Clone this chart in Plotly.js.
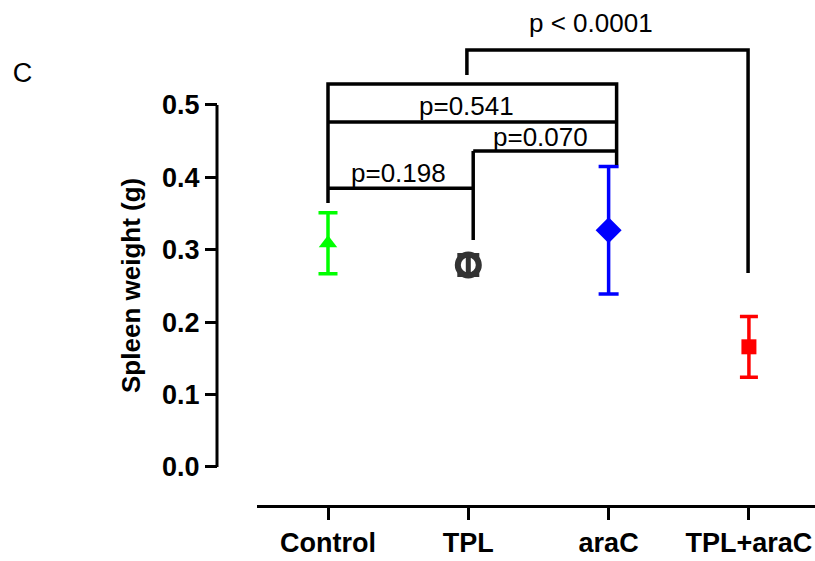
<!DOCTYPE html>
<html>
<head>
<meta charset="utf-8">
<script src="https://cdn.plot.ly/plotly-3.0.1.min.js"></script>
<style>html,body{margin:0;padding:0;background:#fff;}#chart{width:815px;height:561px;}</style>
</head>
<body>
<div id="chart"></div>
<script>
// ---- data ----
var groups = ["Control", "TPL", "araC", "TPL+araC"];
var groupPos = [0, 1, 2, 3];
var means = [0.309, 0.279, 0.327, 0.166];
var sem = [0.042, 0.013, 0.088, 0.042];
var colors = ["#00ff00", "#333333", "#0000ff", "#ff0000"];
var symbols = ["triangle-up", "circle-open", "diamond", "square"];
var markerSizes = [16, 21, 20, 15];
var capHalfWidth = [9.5, 11, 10, 9];
var yTickVals = [0, 0.1, 0.2, 0.3, 0.4, 0.5];
var yTickText = ["0.0", "0.1", "0.2", "0.3", "0.4", "0.5"];
var yTitle = "Spleen weight (g)";

// significance brackets (x in group index, y in g); null separates segments
var bracketX = [0, 0, 2.057, 2.057, null,
                0, 2.057, null,
                1.035, 2.057, null,
                1.035, 1.035, null,
                0, 1.035, null,
                0.99, 0.99, 2.994, 2.994];
var bracketY = [0.3646, 0.529, 0.529, 0.417, null,
                0.4765, 0.4765, null,
                0.4365, 0.4365, null,
                0.4365, 0.3135, null,
                0.385, 0.385, null,
                0.5414, 0.576, 0.576, 0.268];
var pLabels = ["p=0.541", "p=0.070", "p=0.198", "p < 0.0001"];
var pLabelX = [0.984, 1.518, 0.506, 1.875];
var pLabelY = [0.4986, 0.4558, 0.406, 0.613];

// ---- traces ----
var traces = [];
for (var i = 0; i < groups.length; i++) {
  traces.push({
    type: "scatter", mode: "markers",
    x: [groupPos[i]], y: [means[i]],
    marker: {symbol: symbols[i], size: markerSizes[i], color: colors[i],
             line: {color: colors[i], width: (symbols[i] === "circle-open" ? 6 : 0)}},
    error_y: {type: "data", array: [sem[i]], visible: true, color: colors[i],
              thickness: (symbols[i] === "circle-open" ? 5 : 3.5), width: capHalfWidth[i]},
    cliponaxis: false, showlegend: false, hoverinfo: "skip"
  });
}
traces.push({
  type: "scatter", mode: "lines", x: bracketX, y: bracketY,
  line: {color: "#000", width: 3.5}, connectgaps: false,
  showlegend: false, hoverinfo: "skip"
});

var font = "Liberation Sans, Arial, sans-serif";
var annotations = pLabels.map(function (t, k) {
  return {x: pLabelX[k], y: pLabelY[k], xref: "x", yref: "y", text: t, showarrow: false,
          xanchor: "center", yanchor: "middle",
          font: {family: font, size: 26, color: "#000"}};
});
annotations.push({
  x: -86 / 598, xref: "paper", y: 0.25, yref: "y", text: yTitle, textangle: -90,
  showarrow: false, xanchor: "center", yanchor: "middle",
  font: {family: font, size: 26, color: "#000", weight: "bold"}
});

var layout = {
  width: 815, height: 561,
  margin: {l: 217, r: 0, t: 0, b: 56},
  paper_bgcolor: "#fff", plot_bgcolor: "#fff",
  title: {text: "C", xref: "container", yref: "container", x: 22.5 / 815, xanchor: "center",
          y: 1 - 73 / 561, yanchor: "middle",
          font: {family: font, size: 27, color: "#000"}},
  xaxis: {
    domain: [40 / 598, 1], range: [-0.506, 3.471],
    tickvals: groupPos, ticktext: groups,
    showline: true, linecolor: "#000", linewidth: 3,
    ticks: "outside", ticklen: 12, tickwidth: 3, tickcolor: "#000",
    showgrid: false, zeroline: false,
    tickfont: {family: font, size: 27, color: "#000", weight: "bold"}
  },
  yaxis: {
    anchor: "free", position: 0,
    range: [-0.0525, 0.645],
    tickvals: yTickVals, ticktext: yTickText,
    showline: false, showgrid: false, zeroline: false,
    ticks: "outside", ticklen: 12, tickwidth: 3, tickcolor: "#000",
    tickfont: {family: font, size: 27, color: "#000", weight: "bold"}
  },
  shapes: [{type: "line", xref: "paper", yref: "y", x0: 0, x1: 0, y0: 0, y1: 0.5,
            line: {color: "#000", width: 3}}],
  annotations: annotations
};

Plotly.newPlot("chart", traces, layout, {displayModeBar: false, staticPlot: true});
</script>
</body>
</html>
